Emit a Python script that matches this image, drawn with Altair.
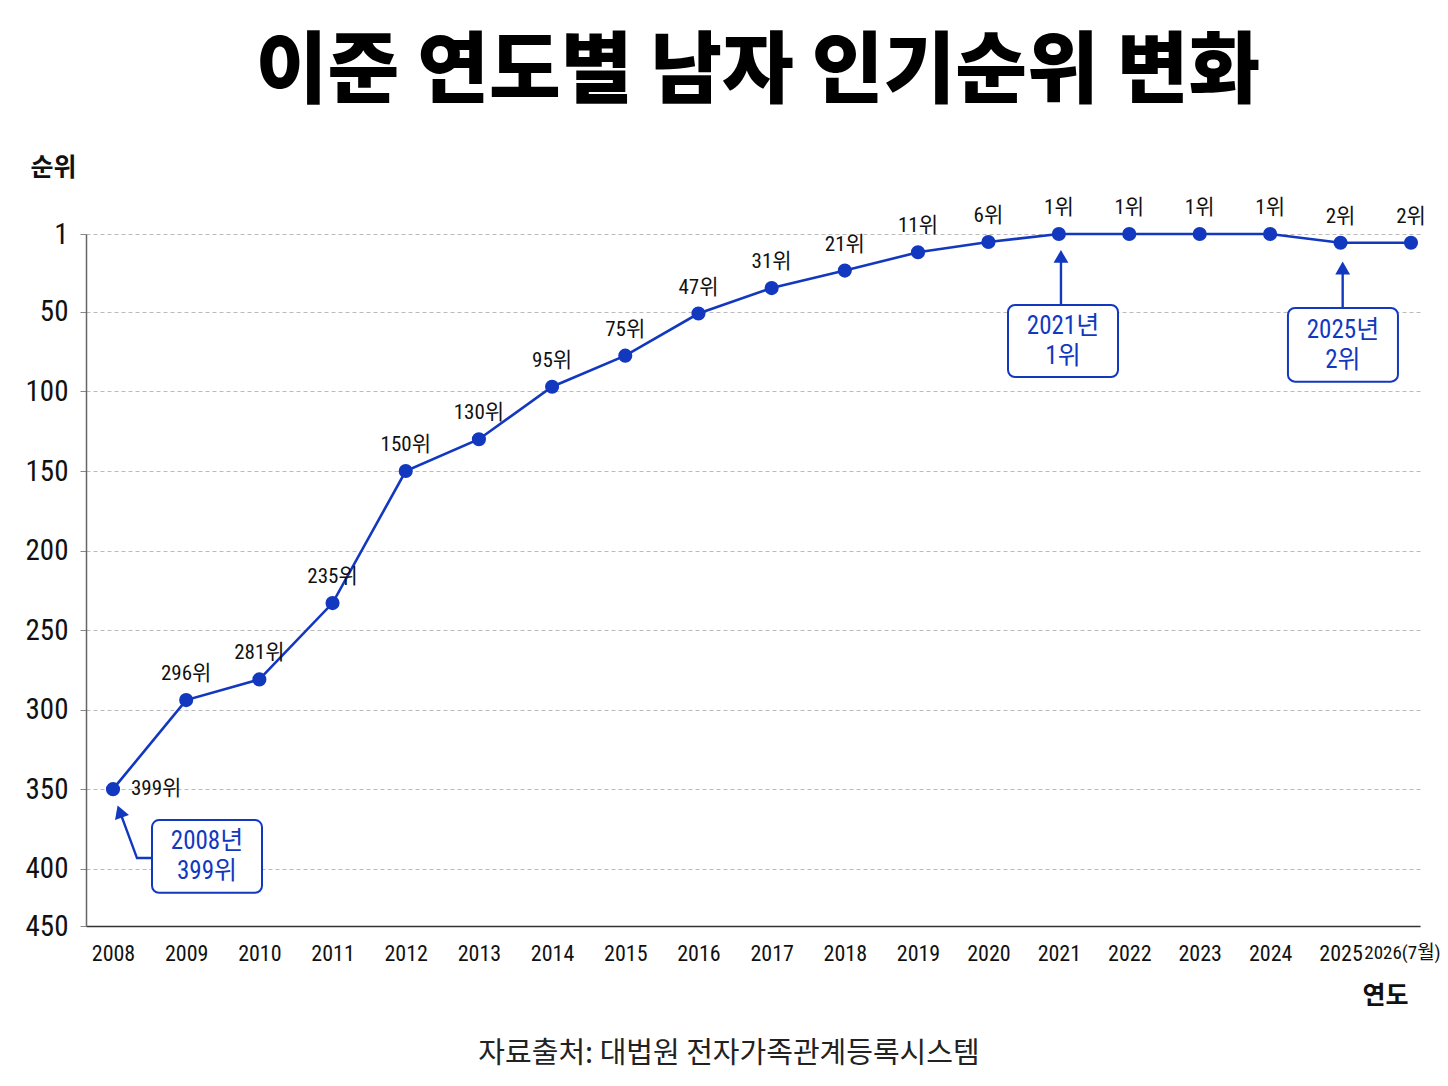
import altair as alt
import pandas as pd

# ---- data ----
years = list(range(2008, 2027))
rank_labels = ["399위", "296위", "281위", "235위", "150위", "130위", "95위", "75위", "47위",
               "31위", "21위", "11위", "6위", "1위", "1위", "1위", "1위", "2위", "2위"]
# vertical position of each marker as drawn in the reference (on its rank axis)
plotted_rank = [350, 294, 281, 233, 150, 130, 97, 77.5, 51, 35, 24, 12.5, 6, 1, 1, 1, 1, 6.5, 6.5]

y_ticks = [1, 50, 100, 150, 200, 250, 300, 350, 400, 436]
x_ticks = years

# annotation callouts (data coordinates: year, rank)
box_text = ["2008년\n399위", "2021년\n1위", "2025년\n2위"]
box_x1 = [2008.533, 2020.278, 2024.253]
box_x2 = [2010.036, 2021.840, 2025.815]
box_y1 = [369.4, 45.6, 47.5]
box_y2 = [415.1, 90.9, 93.8]

# arrow shafts: (path id, order, year, rank)
arrow_id = [0, 0, 0, 1, 1, 2, 2]
arrow_ord = [0, 1, 2, 0, 1, 0, 1]
arrow_x = [2008.533, 2008.328, 2008.093, 2021.03, 2021.03, 2025.03, 2025.03]
arrow_y = [393.3, 393.3, 364.0, 45.6, 15.1, 47.5, 22.4]
head_x = [2008.093, 2021.03, 2025.03]
head_y = [364.0, 15.1, 22.4]
head_angle = [340, 0, 0]

title_text = "이준 연도별 남자 인기순위 변화"
source_text = "자료출처: 대법원 전자가족관계등록시스템"

BLUE = "#1238BF"
NUM_FONT = "'Roboto Condensed', 'DejaVu Sans Condensed', 'Liberation Sans Narrow', 'Noto Sans CJK KR', sans-serif"
KR_FONT = "Noto Sans CJK KR"

df = pd.DataFrame({"year": years, "rank": plotted_rank, "label": rank_labels})
boxes = pd.DataFrame({"year": box_x1, "year2": box_x2, "rank": box_y1, "rank2": box_y2,
                      "text": box_text})
boxes["cx"] = (boxes["year"] + boxes["year2"]) / 2
boxes["cy"] = (boxes["rank"] + boxes["rank2"]) / 2
arrows = pd.DataFrame({"id": arrow_id, "ord": arrow_ord, "year": arrow_x, "rank": arrow_y})
heads = pd.DataFrame({"year": head_x, "rank": head_y, "angle": head_angle})

# the reference spaces the years slightly unevenly: piecewise-linear year scale
xscale = alt.Scale(domain=[2007.631, 2019, 2026.128], range=[0, 832, 1334], nice=False, zero=False)
yscale = alt.Scale(domain=[1, 436], reverse=True, nice=False, zero=False)

xaxis = alt.Axis(
    values=x_ticks, format="d", grid=False, ticks=False, labelFlush=False, labelOverlap=False,
    labelExpr="datum.value == 2026 ? '2026(7월)' : datum.label",
    labelOffset={"condition": {"test": "datum.value == 2026", "value": -9}, "value": 0},
    labelFontSize={"condition": {"test": "datum.value == 2026", "value": 19}, "value": 22},
    labelFont=NUM_FONT, labelColor="#111", labelPadding=17,
    domainColor="#333", domainWidth=1.5,
    title="연도", titleFont=KR_FONT, titleFontSize=25, titleFontWeight=600, titleColor="#111",
    titleAngle=0, titleAlign="right", titleBaseline="middle", titleX=1322, titleY=69,
)
yaxis = alt.Axis(
    values=y_ticks, labelExpr="datum.value == 436 ? '450' : datum.label",
    grid=True, gridDash=[4, 3], gridColor="#bbbbbb", gridWidth=1,
    ticks=True, tickSize=6, tickColor="#888", labelPadding=12, labelFlush=False, labelOverlap=False,
    labelFont=NUM_FONT, labelFontSize=29, labelColor="#111", labelBaseline="middle",
    domainColor="#666", domainWidth=1.5,
    title="순위", titleFont=KR_FONT, titleFontSize=25, titleFontWeight=600, titleColor="#111",
    titleAngle=0, titleAlign="left", titleBaseline="middle", titleX=-56, titleY=-67,
)


def X(field="year"):
    return alt.X(field, type="quantitative", scale=xscale, axis=xaxis)


def Y(field="rank"):
    return alt.Y(field, type="quantitative", scale=yscale, axis=yaxis)


base = alt.Chart(df)
line = base.mark_line(color=BLUE, strokeWidth=2.6).encode(x=X(), y=Y())
pts = base.mark_circle(color=BLUE, size=200, opacity=1).encode(x=X(), y=Y())
labels_top = base.transform_filter("datum.year > 2008").mark_text(
    font=NUM_FONT, fontSize=21, color="#111", baseline="middle", dy=-26
).encode(x=X(), y=Y(), text="label:N")
label_first = base.transform_filter("datum.year == 2008").mark_text(
    font=NUM_FONT, fontSize=21, color="#111", baseline="middle", align="left", dx=18
).encode(x=X(), y=Y(), text="label:N")

box_rect = alt.Chart(boxes).mark_rect(
    fill="white", stroke=BLUE, strokeWidth=2, cornerRadius=7
).encode(x=X(), x2="year2", y=Y(), y2="rank2")
box_lbl = alt.Chart(boxes).mark_text(
    font=NUM_FONT, fontSize=25, color=BLUE, baseline="middle", lineBreak="\n", lineHeight=30,
    dy=-15
).encode(x=X("cx"), y=Y("cy"), text="text:N")

arrow_lines = alt.Chart(arrows).mark_line(color=BLUE, strokeWidth=2.4).encode(
    x=X(), y=Y(), detail="id:N", order="ord:Q"
)
arrow_heads = alt.Chart(heads).mark_point(
    shape="triangle-up", filled=True, color=BLUE, size=220, opacity=1
).encode(x=X(), y=Y(), angle=alt.Angle("angle:Q", scale=None))

source = alt.Chart(pd.DataFrame({"t": [source_text]})).mark_text(
    font=KR_FONT, fontSize=29, color="#222", baseline="middle", align="center"
).encode(x=alt.value(643), y=alt.value(820), text="t:N")

chart = alt.layer(
    line, pts, labels_top, label_first, arrow_lines, arrow_heads, box_rect, box_lbl, source
).properties(
    width=1334, height=692,
    title=alt.TitleParams(
        text=title_text, font=KR_FONT, fontSize=78, fontWeight=900, color="#000",
        anchor="middle", frame="group", offset=42, dx=5,
    ),
    padding={"left": 78, "top": 226, "right": 20, "bottom": 146},
    autosize=alt.AutoSizeParams(type="none"),
).configure(background="white").configure_view(stroke=None)

chart.save("out.html", embed_options={"renderer": "svg", "actions": False})
